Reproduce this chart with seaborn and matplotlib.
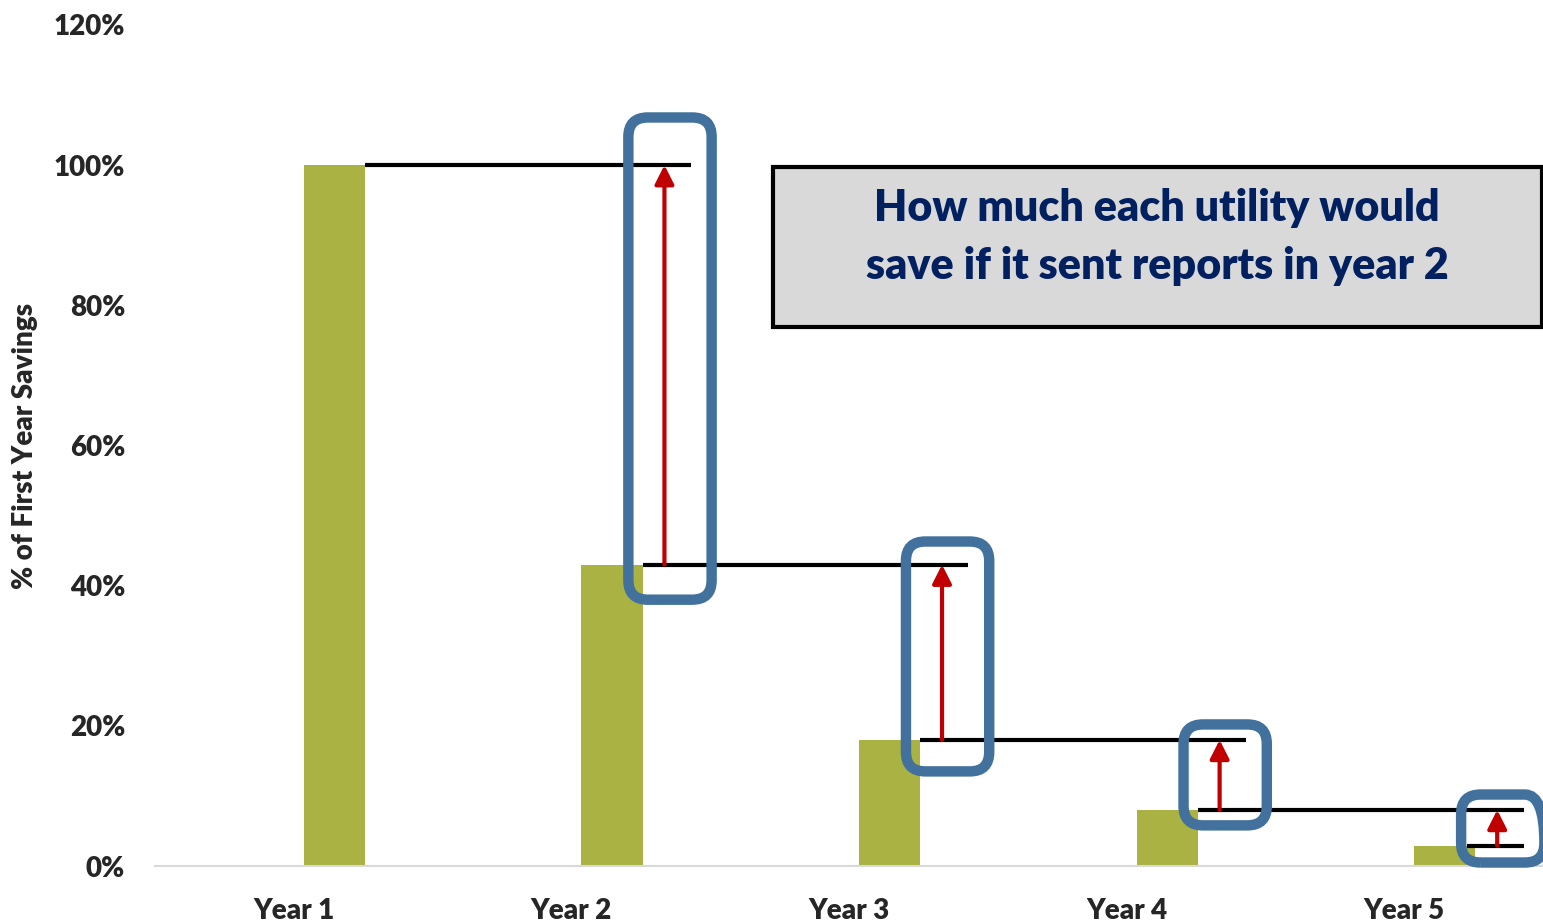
import numpy as np
import pandas as pd
import matplotlib.pyplot as plt
import seaborn as sns
from matplotlib.patches import FancyBboxPatch, Rectangle

# values (% of first year savings)
years = ["Year 1", "Year 2", "Year 3", "Year 4", "Year 5"]
savings_pct = [100, 43, 18, 8, 2.9]
y_ticks = [0, 20, 40, 60, 80, 100, 120]

# blue highlight boxes around the arrows (bottom / top, in % units)
box_low = [38.0, 13.5, 5.8, 0.5]
box_high = [106.8, 46.3, 20.2, 10.2]

note = "How much each utility would\nsave if it sent reports in year 2"

bar_color = "#A9B243"
arrow_color = "#C00000"
box_color = "#41719C"
note_color = "#002060"

sns.set_style("white")
plt.rcParams["font.family"] = ["Lato", "DejaVu Sans"]
heavy = "heavy"

fig = plt.figure(figsize=(15.43, 9.21), dpi=100)
ax = fig.add_axes([0.1005, 0.0597, 0.8995, 0.9132])

idx = np.arange(len(years))
bar_off, bar_w = 0.146, 0.22
df = pd.DataFrame({"pos": idx + bar_off, "pct": savings_pct})
sns.barplot(data=df, x="pos", y="pct", native_scale=True, width=bar_w,
            color=bar_color, saturation=1, linewidth=0, ax=ax)

ax.set_xlim(-0.5, 4.5)
ax.set_ylim(0, 120)

# black step lines: from each bar's right edge over to the next arrow
for i, v in enumerate(savings_pct[:-1]):
    ax.hlines(v, i + bar_off + bar_w / 2, i + 1.43, color="black", lw=3, zorder=3)
ax.hlines(savings_pct[-1], idx[-1] + bar_off + bar_w / 2 - 0.03, idx[-1] + 0.43,
          color="black", lw=3, zorder=3)

# red arrows from the next year's level up to the previous year's level
for i in range(len(savings_pct) - 1):
    x = i + 1 + 0.335
    ax.annotate("", xy=(x, savings_pct[i]), xytext=(x, savings_pct[i + 1]),
                arrowprops=dict(arrowstyle="-|>,head_length=0.75,head_width=0.38",
                                color=arrow_color, lw=3, shrinkA=0, shrinkB=0,
                                mutation_scale=15),
                zorder=4)

# rounded blue boxes around arrows
fig.canvas.draw()
bb = ax.get_window_extent()
px_x = bb.width / 5.0
px_y = bb.height / 120.0
for i in range(len(box_low)):
    x0 = i + 1 + 0.205
    patch = FancyBboxPatch((x0, box_low[i]), 0.3, box_high[i] - box_low[i],
                           boxstyle="round,pad=0,rounding_size=0.07",
                           mutation_aspect=px_x / px_y,
                           fill=False, edgecolor=box_color, lw=7.5,
                           zorder=5, clip_on=False)
    ax.add_patch(patch)

# note box
ax.add_patch(Rectangle((1.726, 76.9), 2.771, 22.8, facecolor="#D9D9D9",
                       edgecolor="black", lw=3, zorder=6, clip_on=False))
ax.text(3.11, 89.7, note, ha="center", va="center", fontsize=31,
        fontweight=heavy, color=note_color, linespacing=1.55, zorder=7)

ax.set_xticks(idx)
ax.set_xticklabels(years, fontsize=20, fontweight=heavy)
ax.set_yticks(y_ticks)
ax.set_yticklabels([f"{t}%" for t in y_ticks], fontsize=20, fontweight=heavy)
ax.tick_params(axis="both", length=0)
ax.tick_params(axis="x", pad=23)
ax.tick_params(axis="y", pad=21.5)
ax.set_xlabel("")
ax.set_ylabel("% of First Year Savings", fontsize=20, fontweight=heavy, labelpad=11)

sns.despine(ax=ax, left=True)
ax.spines["bottom"].set_color("#D9D9D9")
ax.spines["bottom"].set_linewidth(1.5)

fig.savefig("out.png", dpi=100)
